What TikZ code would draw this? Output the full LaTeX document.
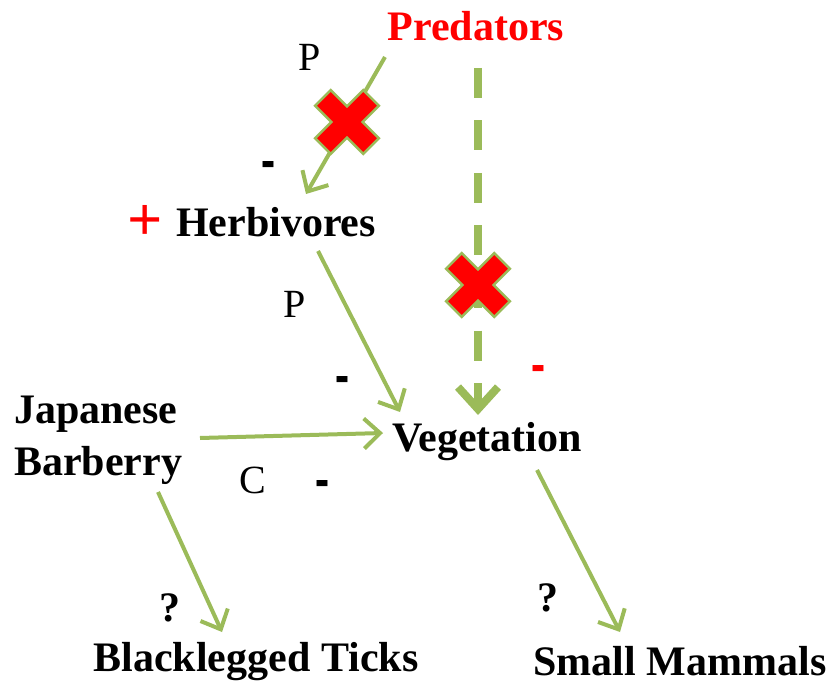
\documentclass[tikz,border=0pt]{standalone}
\usepackage{fontspec}
\setmainfont{Liberation Serif}
\usetikzlibrary{arrows.meta,calc}
\definecolor{olive}{HTML}{9BBB59}
\definecolor{xred}{HTML}{FF0000}
\newcommand{\thickminus}{\scalebox{1.05}[1.8]{-}}
\tikzset{
  lbl/.style={font=\fontsize{42}{52}\selectfont\bfseries, inner sep=0pt},
  rel/.style={font=\fontsize{40}{48}\selectfont, inner sep=0pt},
  sgn/.style={font=\fontsize{40}{48}\selectfont\bfseries, inner sep=0pt},
  qm/.style={font=\fontsize{42}{48}\selectfont\bfseries, inner sep=0pt},
  conn/.style={draw=olive, line width=4pt, -{Straight Barb[length=16pt,width=30pt]}},
  dconn/.style={draw=olive, line width=8pt, dash pattern=on 30pt off 22.5pt, -{Straight Barb[length=22pt,width=40pt]}},
  xmark/.pic={
    \fill[xred, draw=olive, line width=2.5pt, rotate=45]
      (11,11) -- (11,34) -- (-11,34) -- (-11,11) -- (-34,11) -- (-34,-11)
      -- (-11,-11) -- (-11,-34) -- (11,-34) -- (11,-11) -- (34,-11) -- (34,11) -- cycle;
  }
}
\begin{document}
\begin{tikzpicture}[x=1pt,y=-1pt]
\useasboundingbox (0,0) rectangle (834,692);
% nodes
\node[lbl, text=xred] (pred) at (476,26) {Predators};
\node[lbl] (herb) at (276,222) {Herbivores};
\node[lbl, text=xred, font=\fontsize{62}{66}\selectfont\bfseries] (plus) at (145,223) {+};
\node[lbl, align=left, anchor=west] (barb) at (14,440) {Japanese\\Barberry};
\node[lbl] (veg) at (487,442) {Vegetation};
\node[lbl] (ticks) at (256,662) {Blacklegged Ticks};
\node[lbl] (mamm) at (680,661) {Small Mammals};
% relation labels
\node[rel] (p1) at (310,57) {P};
\node[rel] (p2) at (295,304) {P};
\node[rel] (c1) at (253,480) {C};
\node[sgn] (m1) at (268,171) {\thickminus};
\node[sgn] (m2) at (342,386) {\thickminus};
\node[sgn, text=xred] (m3) at (538,375) {\thickminus};
\node[sgn] (m4) at (322,490) {\thickminus};
\node[qm] (q1) at (170,608) {?};
\node[qm] (q2) at (548,598) {?};
% endpoints
\coordinate (a1s) at (385,57);
\coordinate (a1e) at (306,194);
\coordinate (a2s) at (478,68);
\coordinate (a2e) at (478,415);
\coordinate (a3s) at (318,251);
\coordinate (a3e) at (400,412);
\coordinate (a4s) at (200,438);
\coordinate (a4e) at (383,433);
\coordinate (a5s) at (158,492);
\coordinate (a5e) at (222,632);
\coordinate (a6s) at (537,470);
\coordinate (a6e) at (620,632);
% connectors
\draw[conn] (a1s) -- (a1e);
\draw[dconn] (a2s) -- (a2e);
\draw[conn] (a3s) -- (a3e);
\draw[conn] (a4s) -- (a4e);
\draw[conn] (a5s) -- (a5e);
\draw[conn] (a6s) -- (a6e);
% crosses
\pic (x1) at (347,122) {xmark};
\pic (x2) at (478,285) {xmark};
\end{tikzpicture}
\end{document}
